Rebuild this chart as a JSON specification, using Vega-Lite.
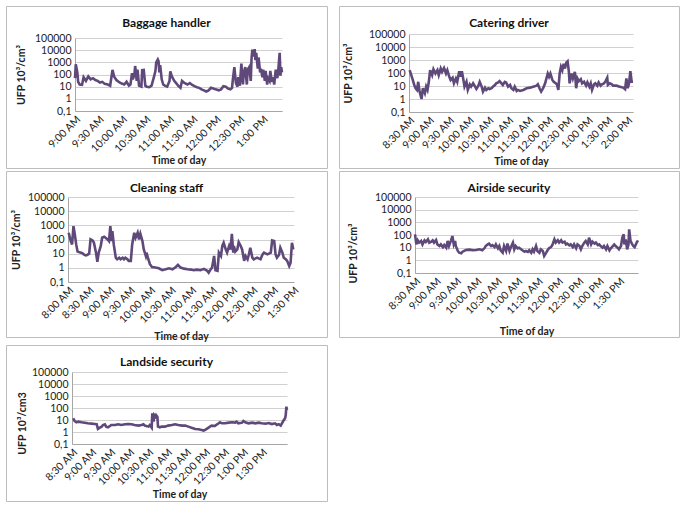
{
  "$schema": "https://vega.github.io/schema/vega-lite/v6.json",
  "padding": {"left": 5, "top": 5, "right": 0, "bottom": 0},
  "background": "white",
  "spacing": 1,
  "config": {
    "font": "Lato",
    "view": {"stroke": "#bdbdbd", "strokeWidth": 1},
    "title": {"fontSize": 12, "fontWeight": "bold", "color": "#111", "anchor": "middle", "frame": "group", "offset": -24},
    "axis": {"labelFont": "Lato", "labelFontSize": 10.5, "labelColor": "#222", "titleFont": "Lato", "titleFontSize": 10.5, "titleFontWeight": "bold", "titleColor": "#222", "ticks": false, "domainColor": "#a6a6a6", "gridColor": "#d0d0d0", "labelOverlap": false, "labelBound": false, "labelFlush": false},
    "axisX": {"grid": false, "labelAngle": -45, "labelAlign": "right", "labelBaseline": "top", "labelPadding": 3},
    "axisY": {"grid": true, "labelPadding": 4, "titlePadding": 8}
  },
  "vconcat": [
    {
      "spacing": 10,
      "hconcat": [
        {
          "width": 321, "height": 162,
          "title": "Baggage handler",
          "data": {"values": [
            {"t":540,"v":50},{"t":541,"v":680},{"t":543,"v":150},{"t":544,"v":25},{"t":546,"v":15},{"t":549,"v":14},{"t":551,"v":60},{"t":554,"v":30},{"t":557,"v":70},{"t":560,"v":40},{"t":563,"v":50},{"t":566,"v":35},{"t":569,"v":30},{"t":572,"v":22},{"t":575,"v":25},{"t":578,"v":17},{"t":582,"v":15},{"t":585,"v":12},{"t":588,"v":240},{"t":590,"v":70},{"t":593,"v":35},{"t":597,"v":22},{"t":600,"v":18},{"t":603,"v":15},{"t":606,"v":25},{"t":609,"v":12},{"t":611,"v":15},{"t":613,"v":130},{"t":614,"v":40},{"t":616,"v":100},{"t":617,"v":500},{"t":619,"v":30},{"t":620,"v":250},{"t":622,"v":12},{"t":625,"v":10},{"t":626,"v":230},{"t":628,"v":240},{"t":630,"v":12},{"t":632,"v":10},{"t":635,"v":9},{"t":638,"v":12},{"t":641,"v":60},{"t":643,"v":200},{"t":644,"v":1000},{"t":646,"v":1700},{"t":647,"v":1200},{"t":648,"v":150},{"t":649,"v":600},{"t":651,"v":40},{"t":653,"v":15},{"t":655,"v":12},{"t":658,"v":10},{"t":661,"v":30},{"t":662,"v":180},{"t":664,"v":70},{"t":667,"v":30},{"t":670,"v":18},{"t":672,"v":12},{"t":675,"v":8},{"t":677,"v":30},{"t":680,"v":20},{"t":684,"v":15},{"t":687,"v":20},{"t":690,"v":14},{"t":693,"v":11},{"t":696,"v":9},{"t":699,"v":8},{"t":702,"v":6},{"t":705,"v":5},{"t":708,"v":4},{"t":711,"v":5},{"t":714,"v":8},{"t":717,"v":7},{"t":720,"v":6},{"t":724,"v":5},{"t":727,"v":6},{"t":730,"v":11},{"t":733,"v":10},{"t":736,"v":7},{"t":739,"v":6},{"t":741,"v":8},{"t":742,"v":35},{"t":744,"v":400},{"t":746,"v":20},{"t":748,"v":10},{"t":749,"v":60},{"t":751,"v":12},{"t":753,"v":800},{"t":755,"v":15},{"t":756,"v":120},{"t":758,"v":400},{"t":760,"v":15},{"t":761,"v":250},{"t":763,"v":400},{"t":765,"v":30},{"t":766,"v":2000},{"t":767,"v":11000},{"t":769,"v":3000},{"t":770,"v":12000},{"t":771,"v":1500},{"t":772,"v":6000},{"t":774,"v":300},{"t":775,"v":2500},{"t":777,"v":150},{"t":778,"v":300},{"t":780,"v":60},{"t":781,"v":250},{"t":783,"v":30},{"t":784,"v":200},{"t":786,"v":15},{"t":787,"v":50},{"t":789,"v":30},{"t":790,"v":200},{"t":792,"v":25},{"t":794,"v":60},{"t":795,"v":15},{"t":797,"v":250},{"t":799,"v":50},{"t":800,"v":150},{"t":802,"v":6000},{"t":803,"v":80},{"t":804,"v":400},{"t":805,"v":150}
          ]},
          "mark": {"type": "line", "color": "#5f497a", "strokeWidth": 2.6},
          "encoding": {
            "x": {"field": "t", "type": "quantitative",
              "scale": {"domain": [540, 805], "range": [69, 276], "nice": false, "zero": false},
              "axis": {"offset": -57, "title": "Time of day", "titlePadding": 1,
                "values": [540,570,600,630,660,690,720,750,780],
                "labelExpr": "(floor(datum.value/60)%12 == 0 ? 12 : floor(datum.value/60)%12) + ':' + (datum.value%60 < 10 ? '0' : '') + (datum.value%60) + (datum.value >= 720 ? ' PM' : ' AM')"}},
            "y": {"field": "v", "type": "quantitative",
              "scale": {"type": "log", "domain": [0.1, 100000], "range": [105, 32], "nice": false},
              "axis": {"offset": -69, "title": "UFP 10³/cm³",
                "values": [0.1,1,10,100,1000,10000,100000],
                "labelExpr": "datum.value < 1 ? '0,1' : format(datum.value, 'd')"}}
          }
        },
        {
          "width": 340, "height": 162,
          "title": "Catering driver",
          "data": {"values": [
            {"t":511,"v":165},{"t":515,"v":38},{"t":518,"v":12},{"t":520,"v":6.7},{"t":522,"v":5},{"t":524,"v":21},{"t":526,"v":3.7},{"t":529,"v":1.0},{"t":531,"v":6.7},{"t":534,"v":2.8},{"t":536,"v":9},{"t":538,"v":5},{"t":540,"v":21},{"t":542,"v":165},{"t":545,"v":68},{"t":547,"v":195},{"t":550,"v":91},{"t":553,"v":165},{"t":555,"v":68},{"t":558,"v":220},{"t":560,"v":123},{"t":563,"v":245},{"t":566,"v":91},{"t":568,"v":165},{"t":571,"v":51},{"t":573,"v":29},{"t":576,"v":43},{"t":578,"v":16},{"t":581,"v":38},{"t":583,"v":21},{"t":586,"v":138},{"t":588,"v":51},{"t":590,"v":138},{"t":592,"v":38},{"t":594,"v":9},{"t":597,"v":21},{"t":599,"v":5},{"t":602,"v":13},{"t":604,"v":9},{"t":607,"v":16},{"t":609,"v":11},{"t":612,"v":6},{"t":615,"v":10.6},{"t":617,"v":21},{"t":620,"v":9},{"t":622,"v":3.7},{"t":625,"v":7.5},{"t":627,"v":5},{"t":630,"v":6.7},{"t":632,"v":5.9},{"t":635,"v":6.7},{"t":637,"v":8.9},{"t":640,"v":12},{"t":642,"v":16},{"t":645,"v":19},{"t":647,"v":24},{"t":650,"v":16},{"t":652,"v":12},{"t":655,"v":21},{"t":657,"v":19},{"t":660,"v":8.9},{"t":663,"v":12},{"t":665,"v":6.7},{"t":668,"v":5},{"t":670,"v":8.9},{"t":673,"v":4.2},{"t":675,"v":5},{"t":678,"v":4.2},{"t":683,"v":5},{"t":688,"v":6.7},{"t":693,"v":7.5},{"t":698,"v":8.9},{"t":703,"v":10.6},{"t":705,"v":13.4},{"t":708,"v":5.9},{"t":710,"v":3.7},{"t":713,"v":6.7},{"t":716,"v":16},{"t":718,"v":38},{"t":720,"v":91},{"t":722,"v":51},{"t":724,"v":91},{"t":727,"v":29},{"t":729,"v":21},{"t":732,"v":16},{"t":734,"v":13.4},{"t":736,"v":5},{"t":738,"v":91},{"t":740,"v":295},{"t":742,"v":165},{"t":744,"v":525},{"t":746,"v":220},{"t":748,"v":630},{"t":750,"v":795},{"t":752,"v":123},{"t":753,"v":16},{"t":756,"v":91},{"t":758,"v":38},{"t":761,"v":123},{"t":763,"v":6.7},{"t":765,"v":38},{"t":767,"v":24},{"t":770,"v":34},{"t":772,"v":16},{"t":775,"v":21},{"t":778,"v":10.6},{"t":780,"v":19},{"t":783,"v":8.9},{"t":785,"v":16},{"t":787,"v":5},{"t":790,"v":13.4},{"t":792,"v":16},{"t":795,"v":10.6},{"t":797,"v":19},{"t":800,"v":10.6},{"t":802,"v":13.4},{"t":805,"v":16},{"t":807,"v":21},{"t":810,"v":43},{"t":811,"v":12},{"t":814,"v":16},{"t":817,"v":13.4},{"t":819,"v":10.6},{"t":824,"v":10.6},{"t":829,"v":8.9},{"t":834,"v":7.5},{"t":837,"v":5.6},{"t":839,"v":38},{"t":841,"v":6.7},{"t":843,"v":16},{"t":845,"v":138},{"t":847,"v":21},{"t":849,"v":21}
          ]},
          "mark": {"type": "line", "color": "#5f497a", "strokeWidth": 2.6},
          "encoding": {
            "x": {"field": "t", "type": "quantitative",
              "scale": {"domain": [510, 849], "range": [70, 294], "nice": false, "zero": false},
              "axis": {"offset": -56, "title": "Time of day", "titlePadding": 1,
                "values": [510,540,570,600,630,660,690,720,750,780,810,840],
                "labelExpr": "(floor(datum.value/60)%12 == 0 ? 12 : floor(datum.value/60)%12) + ':' + (datum.value%60 < 10 ? '0' : '') + (datum.value%60) + (datum.value >= 720 ? ' PM' : ' AM')"}},
            "y": {"field": "v", "type": "quantitative",
              "scale": {"type": "log", "domain": [0.1, 100000], "range": [106, 28], "nice": false},
              "axis": {"offset": -70, "title": "UFP 10³/cm³", "titlePadding": 15,
                "values": [0.1,1,10,100,1000,10000,100000],
                "labelExpr": "datum.value < 1 ? '0,1' : format(datum.value, 'd')"}}
          }
        }
      ]
    },
    {
      "spacing": 10,
      "hconcat": [
        {
          "width": 321, "height": 166,
          "title": "Cleaning staff",
          "data": {"values": [
            {"t":481,"v":300},{"t":484,"v":78},{"t":486,"v":45},{"t":488,"v":880},{"t":490,"v":228},{"t":492,"v":45},{"t":494,"v":14},{"t":496,"v":13},{"t":499,"v":11.8},{"t":501,"v":11},{"t":503,"v":9},{"t":506,"v":7.6},{"t":508,"v":8.1},{"t":511,"v":10},{"t":513,"v":102},{"t":516,"v":86},{"t":518,"v":59},{"t":521,"v":11.8},{"t":523,"v":2.7},{"t":525,"v":11.8},{"t":528,"v":35},{"t":530,"v":133},{"t":533,"v":156},{"t":535,"v":133},{"t":538,"v":102},{"t":540,"v":78},{"t":542,"v":880},{"t":544,"v":78},{"t":545,"v":390},{"t":547,"v":45},{"t":550,"v":5.2},{"t":552,"v":4},{"t":555,"v":5.2},{"t":557,"v":4},{"t":560,"v":5.2},{"t":562,"v":4},{"t":564,"v":5.2},{"t":567,"v":4},{"t":569,"v":3.1},{"t":572,"v":3.1},{"t":574,"v":45},{"t":577,"v":300},{"t":579,"v":133},{"t":582,"v":300},{"t":584,"v":102},{"t":586,"v":254},{"t":589,"v":78},{"t":591,"v":20},{"t":594,"v":6.9},{"t":595,"v":11.8},{"t":597,"v":5.2},{"t":600,"v":1.8},{"t":603,"v":1.15},{"t":608,"v":1.04},{"t":613,"v":0.93},{"t":618,"v":0.68},{"t":623,"v":0.79},{"t":628,"v":0.93},{"t":633,"v":0.79},{"t":638,"v":1.15},{"t":641,"v":1.6},{"t":645,"v":1.04},{"t":650,"v":0.88},{"t":655,"v":0.79},{"t":660,"v":0.75},{"t":664,"v":0.68},{"t":669,"v":0.75},{"t":674,"v":0.68},{"t":679,"v":0.84},{"t":684,"v":0.61},{"t":686,"v":0.46},{"t":689,"v":0.79},{"t":691,"v":1.04},{"t":694,"v":6.9},{"t":696,"v":0.68},{"t":699,"v":0.61},{"t":701,"v":11.8},{"t":704,"v":6.9},{"t":706,"v":35},{"t":708,"v":59},{"t":711,"v":20},{"t":713,"v":11.8},{"t":716,"v":35},{"t":718,"v":20},{"t":720,"v":254},{"t":722,"v":11.8},{"t":723,"v":35},{"t":725,"v":14},{"t":728,"v":20},{"t":730,"v":66},{"t":733,"v":35},{"t":735,"v":20},{"t":738,"v":3.1},{"t":740,"v":6.9},{"t":743,"v":4},{"t":745,"v":9},{"t":747,"v":26},{"t":750,"v":5.2},{"t":752,"v":4},{"t":757,"v":5.2},{"t":762,"v":4},{"t":765,"v":9},{"t":767,"v":11.8},{"t":772,"v":9},{"t":777,"v":11.8},{"t":779,"v":86},{"t":782,"v":78},{"t":784,"v":9},{"t":786,"v":5.2},{"t":789,"v":8.1},{"t":791,"v":26},{"t":794,"v":11.8},{"t":796,"v":5.2},{"t":799,"v":4},{"t":801,"v":3.1},{"t":804,"v":1.35},{"t":806,"v":2.3},{"t":808,"v":59},{"t":810,"v":20}
          ]},
          "mark": {"type": "line", "color": "#5f497a", "strokeWidth": 2.6},
          "encoding": {
            "x": {"field": "t", "type": "quantitative",
              "scale": {"domain": [480, 811], "range": [62, 288], "nice": false, "zero": false},
              "axis": {"offset": -55, "title": "Time of day", "titlePadding": 6,
                "values": [480,510,540,570,600,630,660,690,720,750,780,810],
                "labelExpr": "(floor(datum.value/60)%12 == 0 ? 12 : floor(datum.value/60)%12) + ':' + (datum.value%60 < 10 ? '0' : '') + (datum.value%60) + (datum.value >= 720 ? ' PM' : ' AM')"}},
            "y": {"field": "v", "type": "quantitative",
              "scale": {"type": "log", "domain": [0.1, 100000], "range": [111, 26], "nice": false},
              "axis": {"offset": -62, "title": "UFP 10³/cm³", "titlePadding": 6,
                "values": [0.1,1,10,100,1000,10000,100000],
                "labelExpr": "datum.value < 1 ? '0,1' : format(datum.value, 'd')"}}
          }
        },
        {
          "width": 340, "height": 166,
          "title": "Airside security",
          "data": {"values": [
            {"t":510,"v":113},{"t":512,"v":18},{"t":514,"v":38},{"t":516,"v":25},{"t":519,"v":34},{"t":521,"v":18},{"t":524,"v":38},{"t":526,"v":28},{"t":529,"v":45},{"t":531,"v":25},{"t":534,"v":30},{"t":536,"v":38},{"t":538,"v":25},{"t":541,"v":40},{"t":543,"v":18},{"t":546,"v":13.5},{"t":548,"v":18},{"t":551,"v":11},{"t":553,"v":16},{"t":556,"v":10},{"t":558,"v":34},{"t":560,"v":13.5},{"t":563,"v":38},{"t":565,"v":83},{"t":567,"v":18},{"t":569,"v":34},{"t":570,"v":13.5},{"t":573,"v":5.5},{"t":575,"v":4.0},{"t":578,"v":3.6},{"t":580,"v":4.8},{"t":583,"v":5.8},{"t":585,"v":6.5},{"t":590,"v":7},{"t":595,"v":6.2},{"t":600,"v":6.5},{"t":605,"v":7.4},{"t":609,"v":6.2},{"t":612,"v":8.9},{"t":614,"v":13.5},{"t":617,"v":18},{"t":619,"v":21},{"t":622,"v":13.5},{"t":624,"v":16},{"t":627,"v":11},{"t":629,"v":18},{"t":632,"v":8.9},{"t":634,"v":13.5},{"t":636,"v":6.2},{"t":639,"v":4.0},{"t":641,"v":13.5},{"t":644,"v":5.5},{"t":646,"v":21},{"t":649,"v":5.5},{"t":651,"v":11},{"t":654,"v":25},{"t":656,"v":7.4},{"t":658,"v":13.5},{"t":661,"v":8.9},{"t":663,"v":10},{"t":666,"v":7.4},{"t":668,"v":6.2},{"t":671,"v":4.8},{"t":673,"v":5.5},{"t":676,"v":4.6},{"t":678,"v":6.2},{"t":681,"v":4.0},{"t":683,"v":7.4},{"t":685,"v":4.8},{"t":688,"v":13.5},{"t":690,"v":5.5},{"t":693,"v":4.0},{"t":695,"v":7.4},{"t":698,"v":5.5},{"t":700,"v":2.2},{"t":703,"v":4.0},{"t":705,"v":6.2},{"t":707,"v":8.9},{"t":710,"v":11},{"t":712,"v":16},{"t":715,"v":45},{"t":717,"v":25},{"t":720,"v":38},{"t":722,"v":25},{"t":725,"v":38},{"t":727,"v":25},{"t":730,"v":30},{"t":732,"v":18},{"t":734,"v":21},{"t":737,"v":15},{"t":739,"v":18},{"t":742,"v":11},{"t":744,"v":18},{"t":747,"v":8.9},{"t":749,"v":18},{"t":752,"v":13.5},{"t":754,"v":7.4},{"t":756,"v":13.5},{"t":759,"v":25},{"t":761,"v":34},{"t":764,"v":18},{"t":766,"v":62},{"t":769,"v":18},{"t":771,"v":30},{"t":774,"v":21},{"t":776,"v":25},{"t":779,"v":16},{"t":781,"v":18},{"t":783,"v":13.5},{"t":786,"v":10},{"t":788,"v":13.5},{"t":791,"v":7.4},{"t":793,"v":13.5},{"t":796,"v":6.2},{"t":798,"v":8.9},{"t":801,"v":13.5},{"t":803,"v":18},{"t":805,"v":13.5},{"t":808,"v":10},{"t":810,"v":7.4},{"t":813,"v":13.5},{"t":815,"v":62},{"t":817,"v":113},{"t":818,"v":18},{"t":820,"v":45},{"t":822,"v":7.4},{"t":824,"v":18},{"t":825,"v":280},{"t":827,"v":34},{"t":829,"v":21},{"t":831,"v":13.5},{"t":833,"v":11},{"t":836,"v":25},{"t":838,"v":38}
          ]},
          "mark": {"type": "line", "color": "#5f497a", "strokeWidth": 2.6},
          "encoding": {
            "x": {"field": "t", "type": "quantitative",
              "scale": {"domain": [510, 838], "range": [76, 299], "nice": false, "zero": false},
              "axis": {"offset": -64, "title": "Time of day", "titlePadding": 10,
                "values": [510,540,570,600,630,660,690,720,750,780,810],
                "labelExpr": "(floor(datum.value/60)%12 == 0 ? 12 : floor(datum.value/60)%12) + ':' + (datum.value%60 < 10 ? '0' : '') + (datum.value%60) + (datum.value >= 720 ? ' PM' : ' AM')"}},
            "y": {"field": "v", "type": "quantitative",
              "scale": {"type": "log", "domain": [0.1, 100000], "range": [102, 26], "nice": false},
              "axis": {"offset": -76, "title": "UFP 10³/cm³", "titlePadding": 16, "titleY": 82,
                "values": [0.1,1,10,100,1000,10000,100000],
                "labelExpr": "datum.value < 1 ? '0,1' : format(datum.value, 'd')"}}
          }
        }
      ]
    },
    {
      "width": 321, "height": 156,
      "title": "Landside security",
      "data": {"values": [
        {"t":512,"v":14},{"t":514,"v":8.3},{"t":517,"v":6.4},{"t":520,"v":7.3},{"t":525,"v":6.4},{"t":530,"v":6.0},{"t":535,"v":5.3},{"t":541,"v":4.95},{"t":546,"v":4.6},{"t":549,"v":4.4},{"t":551,"v":1.8},{"t":554,"v":2.3},{"t":557,"v":2.8},{"t":559,"v":3.8},{"t":562,"v":4.4},{"t":564,"v":2.8},{"t":567,"v":2.45},{"t":570,"v":3.2},{"t":572,"v":3.8},{"t":578,"v":3.8},{"t":583,"v":4.4},{"t":588,"v":3.8},{"t":594,"v":4.4},{"t":599,"v":4.6},{"t":604,"v":4.4},{"t":609,"v":3.8},{"t":615,"v":3.4},{"t":620,"v":3.8},{"t":623,"v":4.4},{"t":625,"v":3.4},{"t":631,"v":2.8},{"t":633,"v":3.8},{"t":636,"v":2.3},{"t":637,"v":36},{"t":639,"v":7.3},{"t":640,"v":26},{"t":642,"v":19},{"t":643,"v":26},{"t":645,"v":19},{"t":646,"v":2.8},{"t":649,"v":2.45},{"t":652,"v":2.8},{"t":657,"v":2.8},{"t":662,"v":3.4},{"t":668,"v":3.8},{"t":673,"v":4.4},{"t":678,"v":3.8},{"t":684,"v":3.4},{"t":689,"v":3.4},{"t":694,"v":2.8},{"t":699,"v":2.3},{"t":705,"v":1.8},{"t":710,"v":1.67},{"t":715,"v":1.47},{"t":718,"v":1.3},{"t":720,"v":1.47},{"t":726,"v":2.3},{"t":728,"v":2.8},{"t":731,"v":3.4},{"t":736,"v":3.2},{"t":742,"v":5.3},{"t":744,"v":6.4},{"t":747,"v":5.3},{"t":752,"v":5.3},{"t":758,"v":6.0},{"t":763,"v":6.4},{"t":768,"v":6.0},{"t":770,"v":7.3},{"t":773,"v":5.3},{"t":779,"v":6.0},{"t":781,"v":8.3},{"t":784,"v":6.4},{"t":789,"v":5.3},{"t":795,"v":6.0},{"t":800,"v":5.3},{"t":805,"v":6.0},{"t":810,"v":5.3},{"t":816,"v":4.95},{"t":821,"v":5.6},{"t":826,"v":4.6},{"t":831,"v":5.3},{"t":834,"v":3.8},{"t":837,"v":4.4},{"t":840,"v":3.4},{"t":842,"v":5.3},{"t":845,"v":10},{"t":847,"v":14},{"t":848,"v":26},{"t":849,"v":129},{"t":850,"v":68}
      ]},
      "mark": {"type": "line", "color": "#5f497a", "strokeWidth": 2.6},
      "encoding": {
        "x": {"field": "t", "type": "quantitative",
          "scale": {"domain": [510, 850], "range": [66, 281], "nice": false, "zero": false},
          "axis": {"offset": -57, "title": "Time of day", "titlePadding": 2,
            "values": [510,540,570,600,630,660,690,720,750,780,810],
            "labelExpr": "(floor(datum.value/60)%12 == 0 ? 12 : floor(datum.value/60)%12) + ':' + (datum.value%60 < 10 ? '0' : '') + (datum.value%60) + (datum.value >= 720 ? ' PM' : ' AM')"}},
        "y": {"field": "v", "type": "quantitative",
          "scale": {"type": "log", "domain": [0.1, 100000], "range": [99, 27], "nice": false},
          "axis": {"offset": -66, "title": "UFP 10³/cm3", "titlePadding": 4, "titleY": 78,
            "values": [0.1,1,10,100,1000,10000,100000],
            "labelExpr": "datum.value < 1 ? '0,1' : format(datum.value, 'd')"}}
      }
    }
  ]
}
